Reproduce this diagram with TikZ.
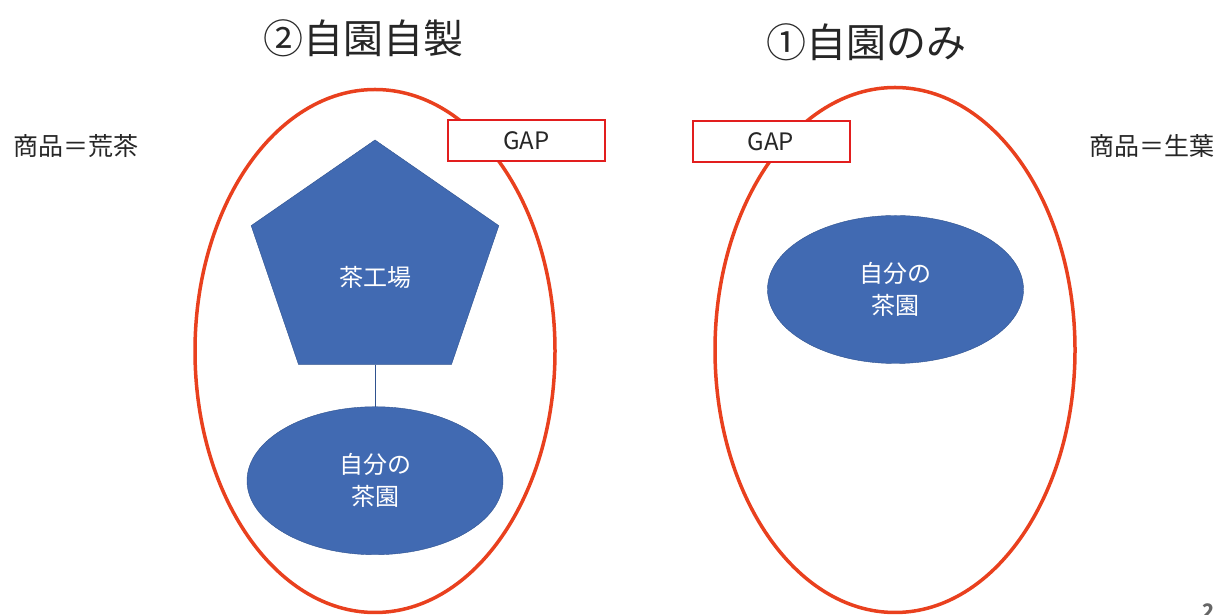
\documentclass[tikz,border=0pt]{standalone}
\usepackage{fontspec}
\setmainfont{Noto Sans CJK JP}
\usetikzlibrary{shapes.geometric, positioning}
\definecolor{ringred}{RGB}{233,64,30}
\definecolor{gapred}{RGB}{226,30,30}
\definecolor{shapeblue}{RGB}{65,106,178}
\definecolor{edgeblue}{RGB}{47,82,143}
\tikzstyle{boundary} = [ellipse, draw=ringred, line width=3.5pt, inner sep=0pt, minimum width=360pt, minimum height=523pt]
\tikzstyle{gapbox} = [rectangle, draw=gapred, line width=2pt, fill=white, minimum width=157pt, minimum height=41pt, font=\fontsize{24pt}{28pt}\selectfont, text=black!85]
\tikzstyle{facility} = [regular polygon, regular polygon sides=5, draw=edgeblue, fill=shapeblue, inner sep=0pt, minimum size=248pt, xscale=1.05, transform shape]
\tikzstyle{garden} = [ellipse, draw=edgeblue, fill=shapeblue, inner sep=0pt, minimum width=256pt, minimum height=148pt, text=white, align=center, font=\fontsize{24pt}{32pt}\selectfont]
\tikzstyle{heading} = [font=\fontsize{40pt}{44pt}\selectfont, text=black!85]
\tikzstyle{product} = [font=\fontsize{25pt}{28pt}\selectfont, text=black!85]
\tikzstyle{link} = [draw=edgeblue, line width=1pt]

\begin{document}
\begin{tikzpicture}[x=1pt, y=1pt]
\useasboundingbox (0,0) rectangle (1221,615);

% Headings
\node (title2) [heading] at (363,577) {②自園自製};
\node (title1) [heading] at (866,573) {①自園のみ};

\node (goods2) [product] at (76,469) {商品＝荒茶};
\node (goods1) [product] at (1152,469) {商品＝生葉};

% Boundaries
\node (own2) [boundary] at (375,264) {};
\node (own1) [boundary, minimum height=525pt] at (895,265) {};

\node (gap2) [gapbox] at (526.5,474.5) {GAP};
\node (gap1) [gapbox] at (771,473.5) {GAP};

% Case 2
\node (factory) [facility] at (375,351) {};
\node (factorytext) [text=white, font=\fontsize{24pt}{28pt}\selectfont] at ([yshift=-13pt]factory.center) {茶工場};
\node (farm2) [garden, below=42pt of factory.south, anchor=north] {自分の\\茶園};

% Case 1
\node (farm1) [garden] at (895.5,325.5) {自分の\\茶園};

% Links
\draw [link] (factory.south) -- (farm2.north);

% Page number
\node (page) [anchor=north, inner sep=0pt, font=\bfseries\fontsize{20pt}{24pt}\selectfont, text=black!60] at (1209,11) {2};

\end{tikzpicture}
\end{document}
